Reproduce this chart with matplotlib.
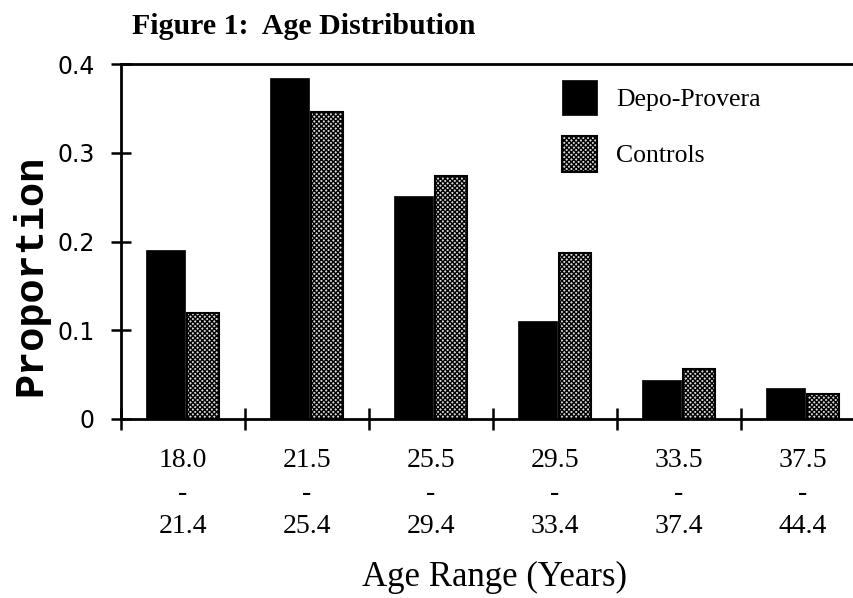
import numpy as np
import matplotlib
matplotlib.use('Agg')
import matplotlib.pyplot as plt

age_ranges = ['18.0\n-\n21.4', '21.5\n-\n25.4', '25.5\n-\n29.4',
              '29.5\n-\n33.4', '33.5\n-\n37.4', '37.5\n-\n44.4']
depo_provera = [0.190, 0.384, 0.251, 0.110, 0.044, 0.035]
controls = [0.120, 0.346, 0.274, 0.187, 0.056, 0.028]
y_ticks = [0, 0.1, 0.2, 0.3, 0.4]
y_tick_labels = ['0', '0.1', '0.2', '0.3', '0.4']

plt.rcParams['hatch.linewidth'] = 1.0

fig = plt.figure(figsize=(8.54, 5.98), dpi=100)
ax = fig.add_axes([121 / 854, 1 - 419 / 598, (853 - 121) / 854, (419 - 64) / 598])

x = np.arange(len(age_ranges))
b1 = ax.bar(x + 0.2, depo_provera, width=0.32, align='edge',
            color='black', edgecolor='black', linewidth=0.5, label='Depo-Provera')
b2 = ax.bar(x + 0.53, controls, width=0.26, align='edge',
            color='#d8d8d8', edgecolor='black', hatch='xxxxxxx', linewidth=1.5,
            label='Controls')

ax.set_xlim(0, (853 - 121) / 124)
ax.set_ylim(0, 0.4)

ax.spines['right'].set_visible(False)
for side in ['left', 'bottom', 'top']:
    ax.spines[side].set_linewidth(2)

ax.set_yticks(y_ticks)
ax.set_yticklabels(y_tick_labels, fontsize=17, family='DejaVu Sans')
ax.tick_params(axis='y', direction='inout', length=14, width=1.8, pad=12)

ax.set_xticks(x)
ax.set_xticklabels([])
ax.set_xticks(x + 0.5, minor=True)
ax.set_xticklabels(age_ranges, minor=True, fontsize=20, family='Liberation Serif',
                   linespacing=1.42)
ax.tick_params(axis='x', which='major', direction='inout', length=16, width=1.8)
ax.tick_params(axis='x', which='minor', length=0, pad=21)

leg = ax.legend(handles=[b1, b2], loc='upper left',
                bbox_to_anchor=((562 - 121) / 732, 0.955),
                frameon=False, prop={'family': 'Liberation Serif', 'size': 18.5},
                handlelength=1.35, handleheight=1.75, handletextpad=0.75,
                labelspacing=0.8, borderaxespad=0, borderpad=0)

fig.text(132 / 854, 1 - 27 / 598, 'Figure 1:  Age Distribution',
         fontsize=21.5, fontweight='bold', family='Liberation Serif',
         ha='left', va='center')
fig.text(30 / 854, 1 - 275 / 598, 'Proportion', rotation=90,
         fontsize=29, fontweight='bold', family='Liberation Mono',
         ha='center', va='center')
fig.text(495 / 854, 1 - 577 / 598, 'Age Range (Years)',
         fontsize=25, family='Liberation Serif', ha='center', va='center')

plt.savefig('out.png', dpi=100)
